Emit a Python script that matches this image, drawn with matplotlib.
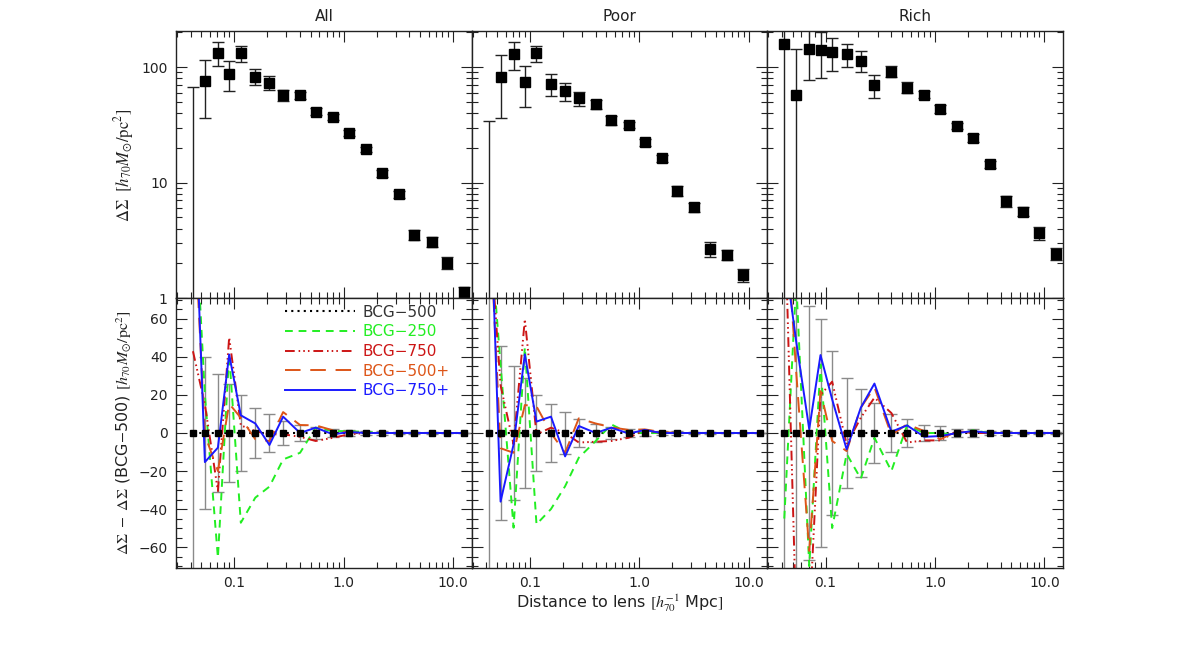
import numpy as np
import matplotlib
matplotlib.use('Agg')
import matplotlib.pyplot as plt
from matplotlib.ticker import LogLocator, MultipleLocator, FixedLocator, FixedFormatter, NullFormatter

plt.rcParams['font.family'] = ['DejaVu Sans']
plt.rcParams['mathtext.fontset'] = 'stix'

# radial bins (h70^-1 Mpc)
radius = [0.042, 0.054, 0.071, 0.090, 0.115, 0.156, 0.21, 0.28, 0.40, 0.556,
          0.80, 1.12, 1.60, 2.22, 3.18, 4.43, 6.4, 8.9, 12.7]

panel_names = ['All', 'Poor', 'Rich']

# top row: Delta Sigma and errors
ds_all = [-10, 76.6, 133, 88, 132, 83, 73.6, 57, 57.3, 41.3, 37.2, 26.8, 19.5, 12.0, 7.9, 3.5, 3.05, 2.02, 1.13]
err_all = [77, 40, 31, 26, 20, 13, 10, 6.5, 4, 3, 2, 1.5, 1, 0.8, 0.5, 0.35, 0.3, 0.25, 0.12]
ds_poor = [-46, 82, 129.5, 74, 132, 71.7, 62.4, 54, 47.9, 34.8, 31.7, 22.3, 16.2, 8.5, 6.1, 2.65, 2.37, 1.58, np.nan]
err_poor = [80, 46, 35, 29, 20, 15, 11, 7.5, 4.5, 3, 2, 1.5, 1, 0.8, 0.5, 0.4, 0.25, 0.2, 0.15]
ds_rich = [159, 57.7, 145, 140, 135, 129.5, 114, 69.8, 91.6, 66.7, 57.7, 43.6, 30.9, 24.3, 14.4, 6.9, 5.6, 3.65, 2.42]
err_rich = [250, 86, 67, 60, 43, 29, 23, 16, 10, 7.5, 4, 3.5, 2, 2, 1, 0.8, 0.5, 0.45, 0.3]

# bottom row: difference to BCG-500 centre
bcg250_all = [140, 20, -65.6, 41.4, -47.2, -34, -28.2, -13.9, -10.4, 2.8, 1, 1, 0.5, 0, 0, 0, 0, 0, 0]
bcg750_all = [43, 15, -30.5, 50.3, 4, 1, -0.7, -0.7, -2, -4.2, -2.5, -0.7, 0, 0, 0, 0, 0, 0, 0]
bcg500p_all = [127, -1, -20, 15.4, 8, -3.3, -4.2, 11, 4.2, 4, 1.4, 0.3, 0, 0, 0, 0, 0, 0, 0]
bcg750p_all = [155, -15.3, -7.7, 41.3, 9.3, 5, -6.3, 8.6, 0, 2.8, -0.7, 0.5, 0, 0, 0, 0, 0, 0, 0]

bcg250_poor = [117, 36, -49.8, 45, -48, -40, -28, -13, -4.2, 4.5, 0, 0, 0, 0, 0, 0, 0, 0, 0]
bcg750_poor = [115, 25, -6, 59.8, -0.7, 2.8, 0, -5, -4.6, -4.2, -2.5, 1.4, 0, 0, 0, 0, 0, 0, 0]
bcg500p_poor = [125, -8, -10.4, 14.7, 14, 0, -10.4, 7.7, 5, 3, 1.6, 1.9, 0.5, 0, 0, 0, 0, 0, 0]
bcg750p_poor = [152, -36.1, -6, 41.4, 6, 8.6, -12.3, 3.7, 0, 2.8, -0.3, 1.6, 0, 0, 0, 0, 0, 0, 0]

bcg250_rich = [-45, 80, -70, 36, -50, -11, -24, -2.5, -20, 4, 0, 0, -1, 1.4, 0, 0, 0, 0, 0]
bcg750_rich = [125, -100, -100, 20, 27, -6, 8, 18.6, 10.5, -5, -3.9, -3.9, 1, 0, 0, 0, 0, 0, 0]
bcg500p_rich = [125, 32, -62, 22, -4.2, -9.5, 13.3, 24, -1, 4.6, 1, -3.3, 1, 0, 0, 0, 0, 0, 0]
bcg750p_rich = [95, 48, 2, 41, 17.7, -8.6, 13.3, 26, 0.7, 4, -2, -1.6, 0, 1, 0, 0, 0, 0, 0]

top_vals = [ds_all, ds_poor, ds_rich]
top_errs = [err_all, err_poor, err_rich]
diff_vals = [
    [bcg250_all, bcg750_all, bcg500p_all, bcg750p_all],
    [bcg250_poor, bcg750_poor, bcg500p_poor, bcg750p_poor],
    [bcg250_rich, bcg750_rich, bcg500p_rich, bcg750p_rich],
]

series_labels = ['BCG\u2212250', 'BCG\u2212750', 'BCG\u2212500+', 'BCG\u2212750+']
series_colors = ['#22ee22', '#cc1515', '#dd5518', '#1a1aff']
series_styles = [(0, (4, 3)), (0, (5, 2, 0.8, 1.6, 0.8, 1.6, 0.8, 2)), (0, (8, 5)), '-']

fig = plt.figure(figsize=(11.81, 6.68), dpi=100)

x0 = 176 / 1181
pw = (1063 - 176) / 3 / 1181
top_b, top_h = 1 - 298 / 668, (298 - 31) / 668
bot_b, bot_h = 1 - 568 / 668, (568 - 298) / 668

xlim = (0.0294, 14.8)


def style_axis(ax):
    ax.set_xscale('log')
    ax.set_xlim(*xlim)
    ax.xaxis.set_major_locator(FixedLocator([0.1, 1.0, 10.0]))
    ax.xaxis.set_major_formatter(FixedFormatter(['0.1', '1.0', '10.0']))
    ax.xaxis.set_minor_locator(LogLocator(base=10, subs=np.arange(2, 10)))
    ax.xaxis.set_minor_formatter(NullFormatter())
    ax.tick_params(which='both', direction='in', top=True, right=True,
                   colors='#222222', labelsize=10, width=0.8)
    ax.tick_params(which='major', length=8, pad=6)
    ax.tick_params(which='minor', length=4)
    for s in ax.spines.values():
        s.set_linewidth(1.0)
        s.set_color('#222222')


for i in range(3):
    # upper panel
    ax = fig.add_axes([x0 + i * pw, top_b, pw, top_h])
    ax.set_yscale('log')
    style_axis(ax)
    ax.set_ylim(1.0, 206)
    ax.yaxis.set_major_locator(FixedLocator([1, 10, 100]))
    ax.yaxis.set_major_formatter(FixedFormatter(['1', '10', '100']))
    ax.yaxis.set_minor_locator(LogLocator(base=10, subs=np.arange(2, 10)))
    ax.yaxis.set_minor_formatter(NullFormatter())
    ax.errorbar(radius, top_vals[i], yerr=top_errs[i], fmt='s', color='k', ms=7,
                ecolor='#222222', elinewidth=1.0, capsize=4.5, capthick=1.0)
    ax.tick_params(labelbottom=False)
    if i > 0:
        ax.tick_params(labelleft=False)
    ax.set_title(panel_names[i], fontsize=11, color='#222222', pad=7)

    # lower panel
    ax2 = fig.add_axes([x0 + i * pw, bot_b, pw, bot_h])
    style_axis(ax2)
    ax2.set_ylim(-71, 71)
    ax2.yaxis.set_major_locator(MultipleLocator(20))
    ax2.yaxis.set_minor_locator(MultipleLocator(5))
    zeros = np.zeros(len(radius))
    ax2.errorbar(radius, zeros, yerr=top_errs[i], fmt='none', ecolor='#8a8a8a',
                 elinewidth=1.0, capsize=4, capthick=1.0)
    ax2.plot(radius, zeros, color='k', ls=(0, (1, 2)), lw=1.5, label='BCG\u2212500')
    for vals, lab, col, st in zip(diff_vals[i], series_labels, series_colors, series_styles):
        ax2.plot(radius, vals, color=col, ls=st, lw=1.4, label=lab)
    ax2.plot(radius, zeros, 's', color='k', ms=4.5)
    if i > 0:
        ax2.tick_params(labelleft=False)
    if i == 0:
        leg = ax2.legend(loc='upper left', bbox_to_anchor=((285 - 176) / 296, 0.975),
                         frameon=False, fontsize=11, handlelength=4.6,
                         handletextpad=0.5, labelspacing=0.3, borderaxespad=0, borderpad=0)
        for txt, col in zip(leg.get_texts(), ['#333333'] + series_colors):
            txt.set_color(col)

fig.text(124 / 1181, 1 - 165 / 668, r'$\Delta\Sigma\ \ [h_{70}M_{\odot}/\mathrm{pc}^2]$',
         rotation=90, ha='center', va='center', fontsize=12, color='#222222')
fig.text(124 / 1181, 1 - 433 / 668,
         r'$\Delta\Sigma\ -\ \Delta\Sigma$ (BCG$-$500) $[h_{70}M_{\odot}/\mathrm{pc}^2]$',
         rotation=90, ha='center', va='center', fontsize=11.5, color='#222222')
fig.text(619.5 / 1181, 1 - 603 / 668, r'Distance to lens $[h_{70}^{-1}$ Mpc$]$',
         ha='center', va='center', fontsize=11.5, color='#222222')

fig.savefig('out.png', dpi=100)
